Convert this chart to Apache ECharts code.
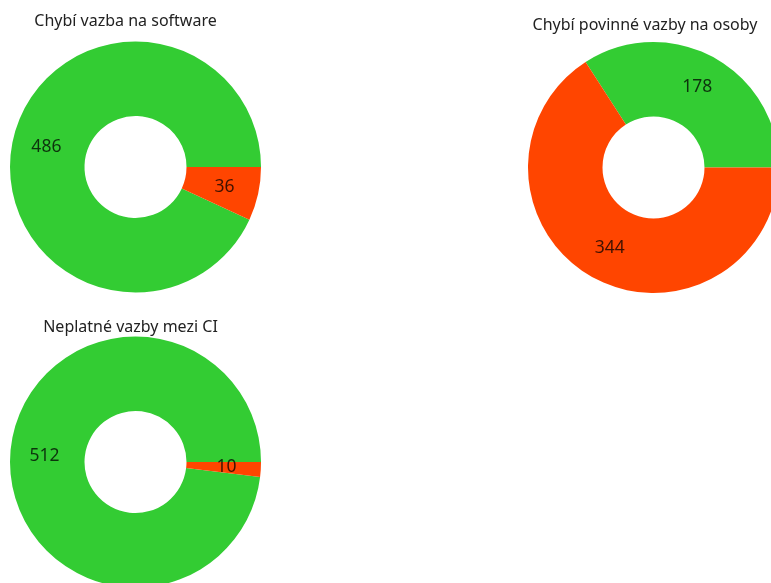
<!DOCTYPE html>
<html>
<head>
<meta charset="utf-8">
<script src="https://cdn.jsdelivr.net/npm/echarts@6/dist/echarts.min.js"></script>
<style>
  html, body { margin: 0; padding: 0; background: #fff; }
  #chart { width: 771px; height: 583px; }
</style>
</head>
<body>
<div id="chart"></div>
<script>
// data for the three donuts
const categories = ['OK', 'Chyba'];
const titles = ['Chybí vazba na software', 'Chybí povinné vazby na osoby', 'Neplatné vazby mezi CI'];
const softwareValues = [486, 36];
const osobyValues = [178, 344];
const ciValues = [512, 10];
const colors = ['#33cc33', '#ff4500'];

const chart = echarts.init(document.getElementById('chart'));

// where each donut sits (center x, center y, title x, title y)
const layout = [
  { cx: 135.5, cy: 167, tx: 125.5, ty: 13 },
  { cx: 653.5, cy: 167.5, tx: 645, ty: 17 },
  { cx: 135.5, cy: 462, tx: 130.5, ty: 319 }
];
const allValues = [softwareValues, osobyValues, ciValues];

const makePie = (values, pos) => ({
  type: 'pie',
  center: [pos.cx, pos.cy],
  radius: [51, 125.5],
  startAngle: 0,
  clockwise: false,
  animation: false,
  silent: true,
  avoidLabelOverlap: false,
  label: {
    show: true,
    position: 'inside',
    formatter: '{c}',
    fontFamily: 'Noto Sans',
    fontSize: 17.5,
    color: 'rgba(0,0,0,0.75)'
  },
  labelLine: { show: false },
  itemStyle: { borderWidth: 0 },
  data: values.map((v, i) => ({ name: categories[i], value: v, itemStyle: { color: colors[i] } }))
});

chart.setOption({
  backgroundColor: '#fff',
  title: titles.map((t, i) => ({
    text: t,
    left: layout[i].tx,
    top: layout[i].ty,
    padding: 0,
    textAlign: 'center',
    textStyle: { fontFamily: 'Noto Sans', fontSize: 16, fontWeight: 'normal', color: '#222' }
  })),
  series: allValues.map((v, i) => makePie(v, layout[i]))
});
</script>
</body>
</html>
